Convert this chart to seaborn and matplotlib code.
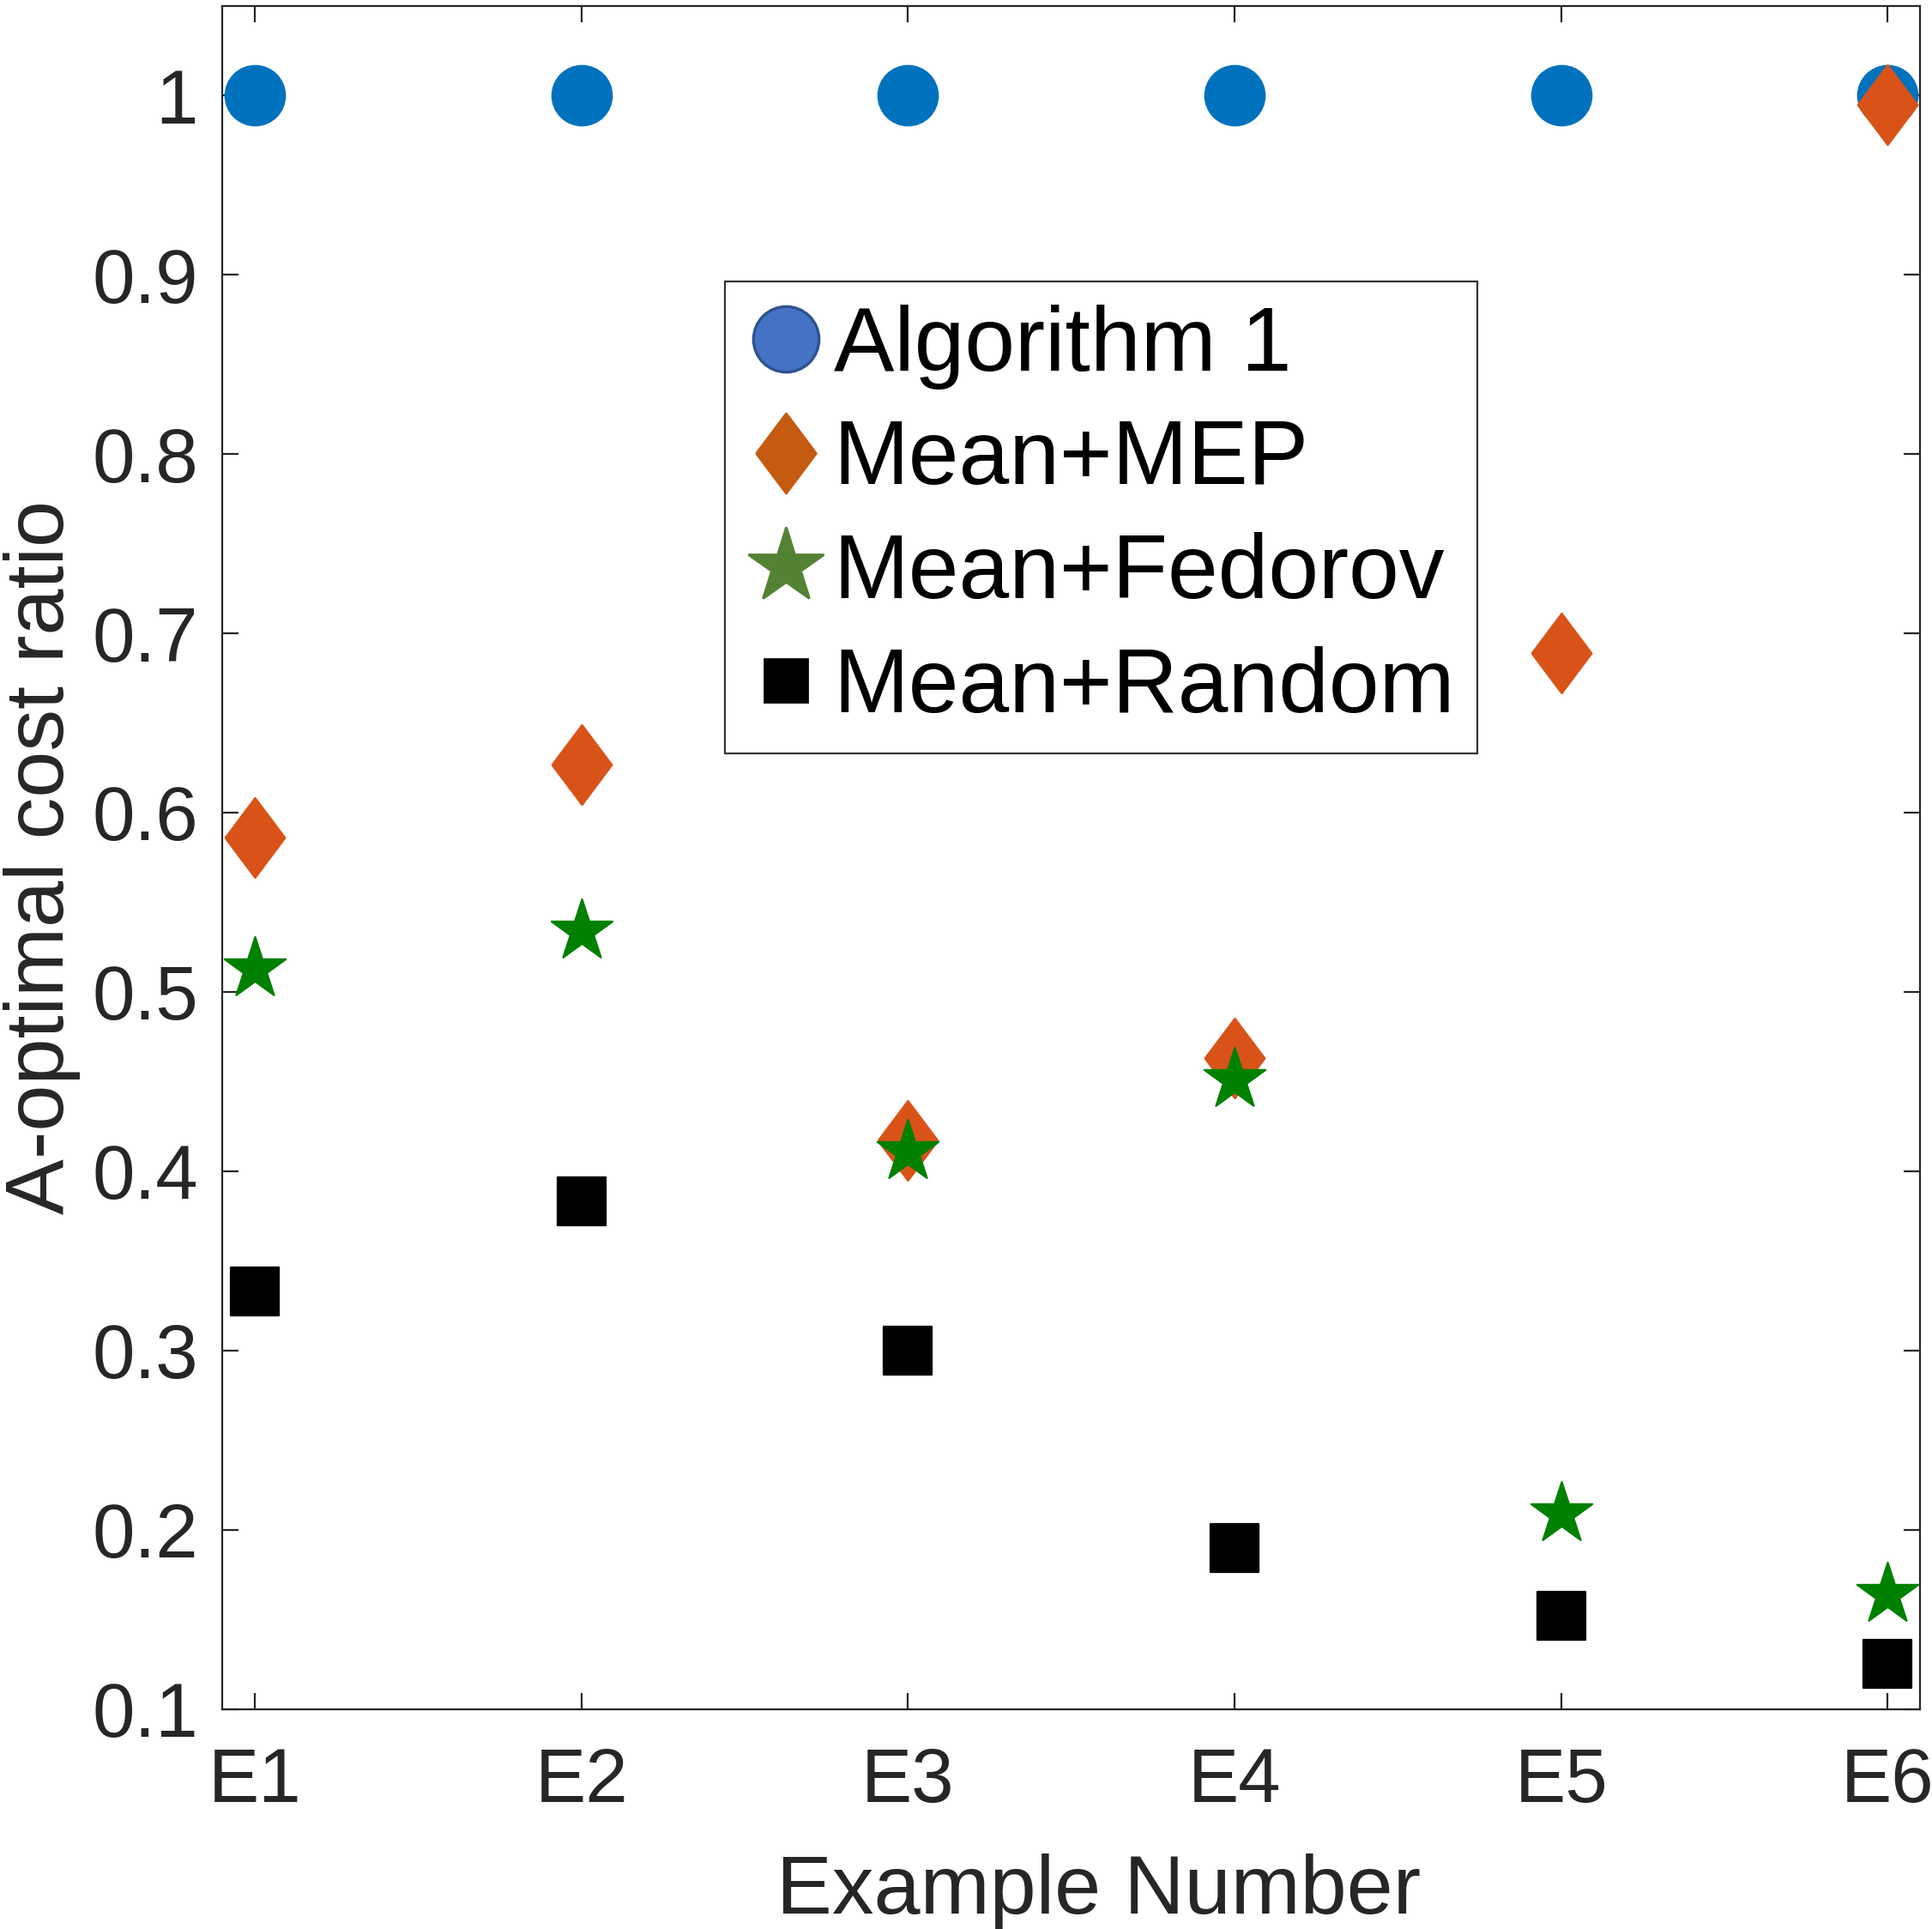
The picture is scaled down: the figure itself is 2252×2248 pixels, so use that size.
import pandas as pd
import matplotlib.pyplot as plt
import seaborn as sns
from matplotlib.lines import Line2D

sns.set_style("white")
plt.rcParams['font.family'] = ['Liberation Sans', 'DejaVu Sans']

# data
examples = ["E1", "E2", "E3", "E4", "E5", "E6"]
algorithm1 = [1.0, 1.0, 1.0, 1.0, 1.0, 1.0]
mean_mep = [0.586, 0.627, 0.417, 0.463, 0.689, 0.995]
mean_fedorov = [0.513, 0.534, 0.411, 0.451, 0.209, 0.164]
mean_random = [0.333, 0.383, 0.300, 0.190, 0.152, 0.125]

series_names = ["Algorithm 1", "Mean+MEP", "Mean+Fedorov", "Mean+Random"]
y_ticks = [0.1, 0.2, 0.3, 0.4, 0.5, 0.6, 0.7, 0.8, 0.9, 1.0]
y_tick_labels = ["0.1", "0.2", "0.3", "0.4", "0.5", "0.6", "0.7", "0.8", "0.9", "1"]

df = pd.DataFrame({
    "example": examples * 4,
    "ratio": algorithm1 + mean_mep + mean_fedorov + mean_random,
    "method": sum([[n] * len(examples) for n in series_names], []),
})

diamond = [(-0.75, 0), (0, 1), (0.75, 0), (0, -1), (-0.75, 0)]

# plot marker styles (matlab colours)
styles = {
    "Algorithm 1": dict(marker="o", color="#0072BD", ms=25),
    "Mean+MEP": dict(marker=diamond, color="#D95319", ms=33.5),
    "Mean+Fedorov": dict(marker="*", color="#008000", ms=27),
    "Mean+Random": dict(marker="s", color="black", ms=20),
}

fig = plt.figure(figsize=(11.26, 11.24), dpi=200)
ax = fig.add_axes([0.115, 0.114, 0.879, 0.883])

for name in series_names:
    st = styles[name]
    sub = df[df["method"] == name]
    sns.scatterplot(data=sub, x="example", y="ratio", ax=ax,
                    marker=st["marker"], color=st["color"], s=st["ms"] ** 2,
                    edgecolor=st["color"], linewidth=0.8, zorder=3)

ax.set_xlim(-0.1, 5.1)
ax.set_ylim(0.1, 1.05)
ax.set_yticks(y_ticks)
ax.set_yticklabels(y_tick_labels)

dark = "#262626"
for s in ax.spines.values():
    s.set_color(dark)
    s.set_linewidth(0.8)
    s.set_visible(True)
ax.tick_params(direction="in", length=6.7, width=0.8, color=dark,
               labelcolor=dark, labelsize=32, top=True, right=True,
               bottom=True, left=True)
ax.tick_params(axis="x", pad=15.5)
ax.tick_params(axis="y", pad=10)

ax.set_xlabel("Example Number", fontsize=35, color=dark, labelpad=15)
ax.xaxis.label.set_x(0.516)
ax.set_ylabel("A-optimal cost ratio", fontsize=35, color=dark, labelpad=5)

# legend handles as in the reference (edited colours)
handles = [
    Line2D([], [], ls="none", marker="o", ms=27.5, mfc="#4472C4", mec="#2F528F", mew=1.2),
    Line2D([], [], ls="none", marker=diamond, ms=33.5, mfc="#C55A11", mec="#C55A11"),
    Line2D([], [], ls="none", marker="*", ms=33, mfc="#548235", mec="#548235"),
    Line2D([], [], ls="none", marker="s", ms=18, mfc="black", mec="black"),
]
leg = ax.legend(handles, series_names, loc="upper left",
                bbox_to_anchor=(0.296, 0.838), fontsize=38,
                frameon=True, fancybox=False, edgecolor="black",
                borderpad=0.25, labelspacing=0.32, handlelength=0.84,
                handletextpad=0.11, borderaxespad=0)
leg.get_frame().set_linewidth(0.8)
for t in leg.get_texts():
    t.set_color("black")

fig.savefig("out.png", dpi=200)
